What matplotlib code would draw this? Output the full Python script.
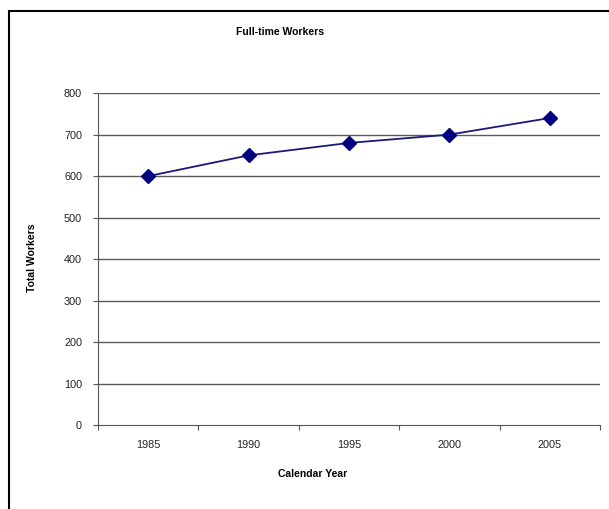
import matplotlib.pyplot as plt
from matplotlib.patches import Rectangle

# Data
years = ['1985', '1990', '1995', '2000', '2005']
workers = [600, 650, 680, 700, 740]
y_ticks = [0, 100, 200, 300, 400, 500, 600, 700, 800]

plt.rcParams['font.family'] = ['Liberation Sans', 'DejaVu Sans']

fig = plt.figure(figsize=(6.09, 5.09), dpi=100)
ax = fig.add_axes([0.161, 0.165, 0.824, 0.652])

x = range(len(years))
ax.plot(x, workers, color='#1a1a7a', linewidth=1.3, marker='D', markersize=7,
        markerfacecolor='#000080', markeredgecolor='#000080', zorder=3)

# Horizontal grid lines
for v in y_ticks[1:]:
    ax.axhline(v, color='#5a5a5a', linewidth=1.0, zorder=1)

ax.set_ylim(0, 800)
ax.set_yticks(y_ticks)
ax.set_xlim(-0.5, len(years) - 0.5)

# Category ticks sit between the labels
ax.set_xticks([i - 0.5 for i in range(len(years) + 1)])
ax.set_xticklabels([])
ax.set_xticks(list(x), minor=True)
ax.set_xticklabels(years, minor=True)
ax.tick_params(axis='x', which='minor', length=0, pad=11, labelsize=7.8,
               labelcolor='#222222')
ax.tick_params(axis='x', which='major', length=3.5, color='#555555')
ax.tick_params(axis='y', length=3.5, color='#555555', labelsize=7.8, pad=8,
               labelcolor='#222222')

for side in ['top', 'right']:
    ax.spines[side].set_visible(False)
for side in ['left', 'bottom']:
    ax.spines[side].set_color('#555555')

fig.text(0.46, 0.937, 'Full-time Workers', fontsize=7.5, fontweight='bold',
         ha='center', va='center')
fig.text(0.052, 0.493, 'Total Workers', fontsize=7.5, fontweight='bold',
         rotation=90, ha='center', va='center')
fig.text(0.513, 0.069, 'Calendar Year', fontsize=7.5, fontweight='bold',
         ha='center', va='center')

# Frame around the chart
fig.patches.append(Rectangle((0.014, -0.05), 1.05, 1.028, transform=fig.transFigure,
                             fill=False, edgecolor='black', linewidth=1.5))

plt.savefig('out.png', dpi=100)
